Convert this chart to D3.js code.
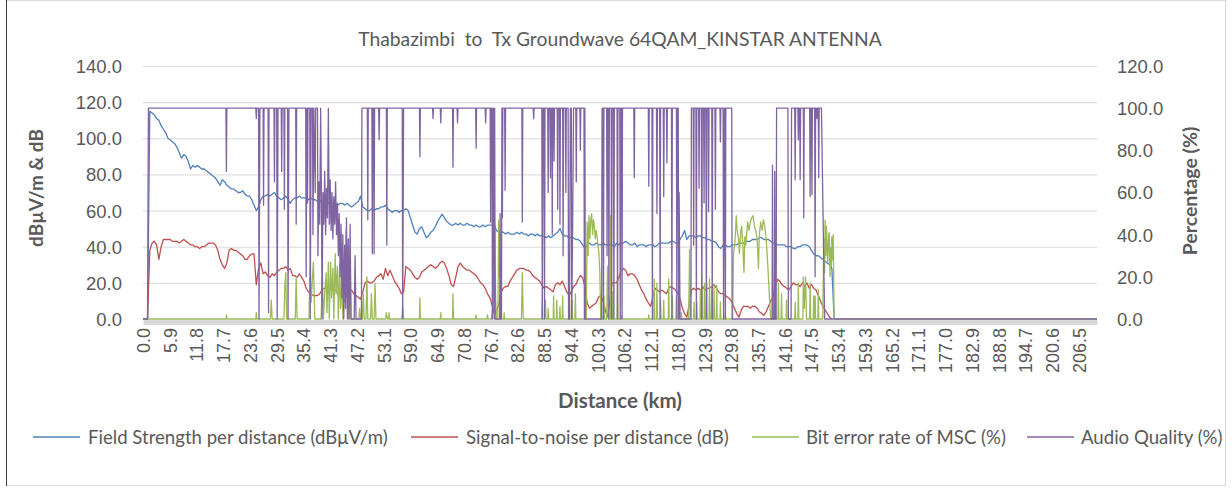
<!DOCTYPE html>
<html>
<head>
<meta charset="utf-8">
<script src="https://cdn.jsdelivr.net/npm/d3@7/dist/d3.min.js"></script>
<style>
  html, body { margin: 0; padding: 0; background: #ffffff; }
  svg { display: block; font-family: Lato, "Open Sans", sans-serif; }
</style>
</head>
<body>
<svg id="chart" width="1232" height="488"></svg>
<script>
// ---- Drive-test data (distance from Thabazimbi) ----
// Field strength and SNR are sampled every SAMPLE_STEP_KM km, starting at 0 km.
const SAMPLE_STEP_KM = 0.5;

// Field Strength per distance (dBuV/m)
const fieldStrength = [
  0,0,0,115,114,113,111,110,107,105,
  103,100,99,98,97,95,92,89,91,90,
  87,83,85,84,85,84,83,83,82,81,
  80,79,78,76,74,77,76,74,73,72,
  72,71,70,70,71,69,68,68,66,63,
  60,62,66,68,68,69,68,69,70,68,
  67,66,67,68,66,64,66,67,67,68,
  67,67,67,66,67,66,66,65,66,64,
  65,65,64,65,64,64,63,64,64,63,
  64,63,62,63,64,65,68,62,61,60,
  60,61,60,61,61,62,62,63,61,60,
  59,60,60,59,60,60,61,60,56,52,
  48,47,50,51,48,45,46,48,49,51,
  54,56,58,56,54,53,52,52,53,52,
  53,52,52,53,52,52,51,52,51,51,
  52,51,52,52,52,52,49,48,48,48,
  47,48,47,47,47,48,47,48,47,47,
  46,47,47,46,47,46,46,46,45,46,
  45,46,47,48,50,47,46,46,45,45,
  45,44,44,43,41,39,41,42,41,41,
  42,41,41,42,41,41,41,41,40,42,
  41,42,42,43,42,41,41,42,40,41,
  41,41,40,41,41,41,40,41,42,42,
  42,42,42,43,43,42,42,44,46,49,
  44,46,46,46,45,46,46,45,45,44,
  44,43,43,42,40,39,41,41,40,40,
  41,41,41,42,42,42,43,43,43,44,
  44,44,45,45,44,44,44,43,42,42,
  41,41,41,41,40,40,40,39,39,40,
  40,41,41,41,40,38,36,35,35,34,
  33,32,31,30,28,0
];

// Signal-to-noise per distance (dB)
const signalToNoise = [
  0,0,0,38,42,43,41,33,40,44,
  44,44,44,43,43,43,42,43,44,43,
  42,41,41,40,40,39,40,40,41,42,
  42,42,41,38,33,30,28,31,38,39,
  38,38,37,36,35,33,33,35,36,36,
  19,28,31,25,26,24,23,25,24,26,
  27,28,28,29,27,28,24,24,23,25,
  23,21,17,15,14,13,13,13,14,16,
  17,17,17,16,16,16,14,13,11,10,
  14,16,16,14,13,12,11,15,20,21,
  20,20,21,23,24,25,22,28,24,27,
  24,21,19,17,14,15,29,28,27,25,
  23,22,23,26,27,28,29,30,29,28,
  29,31,32,31,28,24,19,18,23,29,
  31,29,28,27,27,26,25,24,22,20,
  19,17,14,12,8,3,5,8,15,17,
  18,18,21,23,25,27,28,28,28,27,
  27,26,24,23,22,21,19,17,18,17,
  16,15,19,20,19,21,18,15,13,15,
  18,19,22,24,23,18,9,6,7,8,
  9,12,13,10,5,1,10,20,20,20,
  23,27,28,27,24,25,25,24,22,19,
  16,14,11,9,7,12,17,16,15,16,
  15,14,17,18,17,16,14,11,6,3,
  1,8,16,17,16,17,16,18,16,17,
  17,18,19,17,15,14,14,13,12,11,
  9,6,3,1,5,7,7,7,6,7,
  7,6,4,3,2,4,7,10,12,18,
  22,21,19,18,17,16,18,20,19,19,
  18,20,18,20,17,19,17,16,13,10,
  7,5,3,1,0
];

// Bit error rate of MSC (%) as [km, %]
const bitErrorRate = [
  [0,0],[18.3,0],[18.4,2],[18.5,0],[24.9,0],[25.0,3],[25.1,0],
  [28.1,0],[28.3,9],[28.5,0],
  [31.1,0],[31.3,16],[31.5,22],[31.7,0],
  [33.6,0],[33.8,20],[34.0,0],
  [36.6,0],[36.9,25],[37.1,8],[37.4,20],[37.6,27],[37.9,0],
  [39.3,0],[39.6,20],[39.8,0],[40.1,12],[40.4,22],[40.6,3],[40.9,27],[41.1,0],[41.4,27],[41.6,10],[41.9,24],[42.1,0],
  [42.4,31],[42.6,12],[42.9,25],[43.1,0],[43.4,26],[43.6,5],[43.9,18],[44.1,0],[44.4,30],[44.6,18],[44.8,42],[45.0,20],
  [45.2,35],[45.4,0],[45.7,27],[45.9,0],
  [47.6,0],[47.8,5],[48.0,0],[48.4,0],[48.6,12],[48.8,0],[49.2,0],[49.4,20],[49.6,0],[50.2,0],[50.4,12],[50.6,0],
  [51.0,0],[51.2,17],[51.4,0],
  [53.5,0],[53.7,3],[53.9,0],[54.2,0],[54.3,3],[54.4,0],
  [57.1,0],[57.3,6],[57.5,0],
  [61.0,0],[61.1,10],[61.2,0],
  [65.6,0],[65.7,3],[65.8,0],
  [68.3,0],[68.4,12],[68.5,0],
  [73.4,0],[73.5,2],[73.6,0],
  [75.9,0],[76.0,2],[76.1,0],
  [76.9,0],[77.1,4],[77.3,49],[77.4,5],[77.6,46],[77.8,10],[78.0,0],[78.3,0],[78.5,47],[78.6,20],[78.8,40],[79.0,0],
  [79.6,0],[79.7,3],[79.8,0],
  [83.5,0],[83.7,22],[83.9,0],
  [88.0,0],[88.1,9],[88.2,0],[88.6,0],[88.8,9],[88.9,0],
  [89.3,0],[89.4,5],[89.5,0],
  [90.5,0],[90.6,11],[90.7,0],[91.2,0],[91.3,9],[91.4,0],[91.9,0],[92.0,6],[92.1,0],[92.5,0],[92.6,11],[92.7,0],
  [94.0,0],[94.1,9],[94.2,0],[94.6,0],[94.7,9],[94.8,0],
  [95.3,0],[95.4,12],[95.5,0],
  [97.8,0],[98.0,46],[98.2,30],[98.4,49],[98.6,38],[98.8,47],[99.0,50],[99.2,40],[99.4,47],[99.6,44],[99.8,38],
  [100.0,42],[100.2,39],[100.4,35],[100.6,31],[100.8,22],[101.0,0],
  [101.6,0],[101.7,11],[101.8,0],[102.3,0],[102.5,25],[102.7,0],[103.1,0],[103.2,49],[103.3,0],[103.6,0],[103.7,13],[103.8,0],
  [104.6,0],[104.7,20],[104.8,0],[105.4,0],[105.5,2],[105.6,0],
  [111.5,0],[111.6,2],[111.7,0],
  [112.7,0],[112.8,19],[112.9,0],[113.3,0],[113.4,17],[113.5,0],[114.1,0],[114.2,9],[114.3,0],[114.8,0],[114.9,9],[115.0,0],
  [115.9,0],[116.0,19],[116.1,0],[116.7,0],[116.8,11],[116.9,0],[117.6,0],[117.7,11],[117.8,0],
  [118.7,0],[118.8,3],[118.9,0],
  [120.4,0],[120.6,33],[120.8,0],
  [121.5,0],[121.6,8],[121.7,0],[122.1,0],[122.2,8],[122.3,0],
  [122.9,0],[123.0,14],[123.1,0],[123.2,0],[123.3,21],[123.4,0],[123.8,0],[123.9,17],[124.0,0],[124.3,0],[124.4,17],[124.5,0],
  [124.9,0],[125.0,19],[125.1,0],[125.4,0],[125.5,14],[125.6,0],[125.9,0],[126.0,16],[126.1,0],[126.5,0],[126.6,16],[126.7,0],
  [127.3,0],[127.4,8],[127.5,0],[128.4,0],[128.5,3],[128.6,0],
  [130.1,0],[130.3,31],[130.6,36],[130.9,49],[131.1,42],[131.4,38],[131.6,31],[131.9,42],[132.1,44],[132.4,33],
  [132.6,22],[132.8,39],[133.0,35],[133.4,46],[133.7,42],[134.0,46],[134.3,48],[134.6,49],[134.9,44],[135.2,42],
  [135.5,38],[135.8,24],[136.0,40],[136.3,46],[136.6,42],[136.9,47],[137.2,44],[137.5,38],[137.9,24],[138.2,11],[138.5,0],
  [139.4,0],[139.5,6],[139.6,0],[140.1,0],[140.2,17],[140.3,0],[140.8,0],[140.9,12],[141.0,0],[141.9,0],[142.0,9],[142.1,0],
  [143.8,0],[143.9,8],[144.0,0],[144.5,0],[144.6,17],[144.7,0],[145.6,0],[145.7,20],[145.9,5],[146.2,20],[146.4,0],
  [147.1,0],[147.2,17],[147.3,0],[147.9,0],[148.0,11],[148.1,0],[148.2,0],[148.3,11],[148.4,0],[148.9,0],[149.0,14],[149.1,0],
  [150.0,0],[150.2,38],[150.4,22],[150.5,47],[150.7,30],[150.8,44],[151.1,27],[151.3,40],[151.4,41],[151.6,20],[151.7,34],
  [151.9,25],[152.0,39],[152.2,28],[152.3,40],[152.5,0],[210.5,0]
];

// Audio Quality (%) as [km, %]
const audioQuality = [
  [0,0],[1.0,0],[1.2,100],
  [18.3,100],[18.4,70],[18.5,100],
  [24.9,100],[25.0,95],[25.1,100],
  [25.5,100],[25.6,0],[25.8,100],
  [26.5,100],[26.6,54],[26.7,100],
  [27.6,100],[27.7,3],[27.8,100],
  [28.9,100],[29.0,65],[29.1,100],
  [29.5,100],[29.6,0],[29.8,100],
  [30.5,100],[30.6,70],[30.7,100],
  [31.1,100],[31.2,52],[31.3,100],
  [31.9,100],[32.0,0],[32.2,100],
  [33.7,100],[33.8,45],[33.9,100],
  [35.9,100],[36.0,20],[36.15,100],[36.3,55],[36.4,100],
  [36.8,100],[36.9,0],[37.1,100],
  [37.4,100],[37.5,40],[37.7,100],[38.0,60],[38.1,100],
  [38.5,100],[38.6,30],[38.8,65],[39.0,45],[39.2,100],[39.4,50],[39.5,0],[39.7,60],[39.9,45],[40.1,70],[40.3,40],
  [40.5,62],[40.7,48],[40.9,100],[41.1,45],[41.3,66],[41.5,42],[41.7,60],[41.9,38],[42.1,58],[42.3,45],[42.5,65],
  [42.7,40],[42.9,55],[43.1,30],[43.3,50],[43.5,20],[43.7,45],[43.9,10],[44.1,40],[44.3,0],[44.5,35],[44.7,5],
  [44.9,48],[45.1,0],[45.3,38],[45.5,0],[45.7,45],[45.9,0],[46.6,0],[46.8,30],[47.0,0],[48.2,0],[48.3,100],
  [49.5,100],[49.6,47],[49.7,100],[50.5,100],[50.6,31],[50.7,100],[50.9,100],[51.0,31],[51.1,100],
  [52.0,100],[52.1,85],[52.2,100],
  [53.7,100],[53.8,35],[53.9,100],
  [57.2,100],[57.3,0],[57.5,100],
  [61.0,100],[61.1,77],[61.2,100],
  [63.9,100],[64.0,95],[64.1,100],
  [65.6,100],[65.7,93],[65.8,100],
  [68.3,100],[68.4,72],[68.5,100],
  [69.3,100],[69.4,93],[69.5,100],
  [73.4,100],[73.5,81],[73.6,100],
  [75.5,100],[75.6,93],[75.7,100],
  [76.6,100],[76.7,46],[76.8,100],[77.0,100],[77.1,0],[77.3,100],[77.5,0],[77.6,100],[77.7,0],[78.7,0],[78.8,50],
  [78.9,0],[79.1,0],[79.2,100],[79.3,48],[79.4,100],[79.8,100],[79.9,61],[80.0,100],
  [83.6,100],[83.7,46],[83.8,100],
  [86.1,100],[86.2,95],[86.3,100],
  [88.0,100],[88.1,0],[88.3,100],[88.5,100],[88.6,0],[88.7,100],
  [89.3,100],[89.4,60],[89.5,100],[89.8,100],[89.9,67],[90.0,100],[90.2,100],[90.3,40],[90.4,100],[90.6,100],[90.7,75],[90.8,100],
  [91.4,100],[91.5,52],[91.6,100],[91.9,100],[92.0,45],[92.1,100],
  [92.6,100],[92.7,30],[92.8,100],[93.2,100],[93.3,60],[93.4,100],
  [93.8,100],[93.9,0],[94.1,0],[94.3,100],[94.5,100],[94.6,0],[94.8,45],[95.0,100],
  [95.5,100],[95.6,65],[95.7,100],[96.4,100],[96.5,80],[96.6,100],
  [97.3,100],[97.4,0],[97.5,100],[97.6,0],[101.2,0],[101.3,100],
  [101.5,100],[101.6,0],[101.7,100],[102.3,100],[102.4,30],[102.5,100],[102.7,100],[102.8,0],[102.9,100],
  [103.3,100],[103.4,0],[103.5,100],[103.8,100],[103.9,0],[104.0,100],[104.6,100],[104.7,0],[104.8,100],
  [105.2,100],[105.3,0],[105.4,100],[105.6,100],[105.7,0],[105.8,100],
  [108.3,100],[108.4,67],[108.5,100],
  [111.5,100],[111.6,63],[111.7,100],
  [112.3,100],[112.4,0],[112.5,100],
  [113.3,100],[113.4,50],[113.5,100],
  [114.0,100],[114.1,0],[114.2,100],
  [114.8,100],[114.9,58],[115.0,100],
  [115.5,100],[115.6,74],[115.7,100],
  [116.6,100],[116.7,0],[116.8,100],
  [117.7,100],[117.8,0],[117.9,100],[118.1,100],[118.2,0],[118.3,60],[118.5,0],[120.9,0],[121.0,100],
  [121.4,100],[121.5,35],[121.6,100],
  [122.0,100],[122.1,0],[122.2,100],
  [122.6,100],[122.7,62],[122.8,100],
  [123.2,100],[123.3,0],[123.4,100],
  [123.7,100],[123.8,55],[123.9,100],
  [124.2,100],[124.3,0],[124.4,100],
  [124.7,100],[124.8,51],[124.9,100],
  [125.5,100],[125.6,0],[125.7,100],
  [126.2,100],[126.3,52],[126.4,100],
  [127.3,100],[127.4,84],[127.5,100],
  [128.0,100],[128.1,0],[128.3,100],[128.4,100],[128.5,0],[128.6,100],
  [129.9,100],[130.0,0],
  [138.8,0],[138.9,73],[139.0,0],[139.3,0],[139.4,70],[139.5,0],[139.7,0],[139.8,100],
  [142.3,100],[142.4,0],[143.0,0],[143.1,100],
  [143.8,100],[143.9,66],[144.0,100],[144.5,100],[144.6,85],[144.7,100],[144.9,100],[145.0,66],[145.1,100],
  [145.7,100],[145.8,48],[145.9,100],[147.1,100],[147.2,58],[147.3,100],[147.5,100],[147.6,59],[147.7,100],
  [148.2,100],[148.3,20],[148.4,100],[148.6,100],[148.7,95],[148.8,100],[149.0,100],[149.1,67],[149.2,100],
  [149.7,100],[150.4,0],
  [210.5,0]
];

// Category labels shown along the distance axis (km)
const distanceLabels = [
  "0.0","5.9","11.8","17.7","23.6","29.5","35.4","41.3","47.2","53.1","59.0","64.9",
  "70.8","76.7","82.6","88.5","94.4","100.3","106.2","112.1","118.0","123.9","129.8","135.7",
  "141.6","147.5","153.4","159.3","165.2","171.1","177.0","182.9","188.8","194.7","200.6","206.5"
];
const leftTicks = [0, 20, 40, 60, 80, 100, 120, 140];
const rightTicks = [0, 20, 40, 60, 80, 100, 120];

const seriesNames = [
  "Field Strength per distance (dB\u03bcV/m)",
  "Signal-to-noise per distance (dB)",
  "Bit error rate of MSC (%)",
  "Audio Quality (%)"
];
const seriesColors = ["#4F81BD", "#C0504D", "#9BBB59", "#8064A2"];

const chartTitle = "Thabazimbi  to  Tx Groundwave 64QAM_KINSTAR ANTENNA";
const leftAxisTitle = "dB\u00b5V/m & dB";
const rightAxisTitle = "Percentage (%)";
const xAxisTitle = "Distance (km)";

// ---- Layout ----
const W = 1232, H = 488;
const plot = { left: 143, right: 1097, top: 66, bottom: 319 };
const textColor = "#595959";
const gridColor = "#D9D9D9";

const svg = d3.select("#chart");

// chart area frame
svg.append("rect")
  .attr("x", 6.5).attr("y", 0.5)
  .attr("width", 1219).attr("height", 485)
  .attr("fill", "#ffffff")
  .attr("stroke", "#D9D9D9").attr("stroke-width", 1);
svg.append("line")
  .attr("x1", 6.5).attr("x2", 6.5).attr("y1", 0).attr("y2", 486)
  .attr("stroke", "#404040").attr("stroke-width", 1);

// ---- Scales ----
const x = d3.scaleLinear().domain([0, 210.5]).range([plot.left, plot.right]);
const yLeft = d3.scaleLinear().domain([0, 140]).range([plot.bottom, plot.top]);
const yRight = d3.scaleLinear().domain([0, 120]).range([plot.bottom, plot.top]);

// ---- Gridlines ----
svg.append("g")
  .attr("transform", `translate(${plot.left},0)`)
  .call(d3.axisLeft(yLeft).tickValues(leftTicks.filter(t => t > 0))
    .tickSize(-(plot.right - plot.left)).tickFormat(""))
  .call(g => g.select(".domain").remove())
  .call(g => g.selectAll(".tick line").attr("stroke", gridColor).attr("stroke-width", 1));

// ---- Category axis (distance) ----
const axisY = 322;
svg.append("g")
  .attr("transform", `translate(0,${axisY})`)
  .call(d3.axisBottom(x)
    .tickValues(distanceLabels.map(Number))
    .tickFormat((d, i) => distanceLabels[i])
    .tickSize(0).tickSizeOuter(0))
  .call(g => g.select(".domain").attr("stroke", gridColor).attr("stroke-width", 5))
  .call(g => g.selectAll(".tick text")
    .attr("fill", textColor)
    .attr("font-size", 18)
    .attr("text-anchor", "end")
    .attr("transform", "rotate(-90)")
    .attr("x", -6).attr("y", 0).attr("dy", "0.36em"));

// ---- Value axes ----
svg.append("g")
  .attr("transform", `translate(${plot.left - 21},0)`)
  .call(d3.axisLeft(yLeft).tickValues(leftTicks).tickFormat(d3.format(".1f")).tickSize(0).tickPadding(0))
  .call(g => g.select(".domain").remove())
  .call(g => g.selectAll(".tick text").attr("fill", textColor).attr("font-size", 18.5).attr("dy", "0.35em"));

svg.append("g")
  .attr("transform", `translate(${plot.right + 20},0)`)
  .call(d3.axisRight(yRight).tickValues(rightTicks).tickFormat(d3.format(".1f")).tickSize(0).tickPadding(0))
  .call(g => g.select(".domain").remove())
  .call(g => g.selectAll(".tick text").attr("fill", textColor).attr("font-size", 18.5).attr("dy", "0.35em"));

// ---- Series ----
const seriesLayer = svg.append("g");
const sampled = d3.line()
  .x((d, i) => x(i * SAMPLE_STEP_KM))
  .y(d => yLeft(d));
const paired = d3.line()
  .x(d => x(d[0]))
  .y(d => yRight(d[1]));

seriesLayer.append("path").datum(fieldStrength)
  .attr("d", sampled).attr("fill", "none")
  .attr("stroke", seriesColors[0]).attr("stroke-width", 1.3).attr("stroke-linejoin", "round");
seriesLayer.append("path").datum(signalToNoise)
  .attr("d", sampled).attr("fill", "none")
  .attr("stroke", seriesColors[1]).attr("stroke-width", 1.3).attr("stroke-linejoin", "round");
seriesLayer.append("path").datum(bitErrorRate)
  .attr("d", paired).attr("fill", "none")
  .attr("stroke", seriesColors[2]).attr("stroke-width", 1.3).attr("stroke-linejoin", "round");
seriesLayer.append("path").datum(audioQuality)
  .attr("d", paired).attr("fill", "none")
  .attr("stroke", seriesColors[3]).attr("stroke-width", 1.3).attr("stroke-linejoin", "round");

// ---- Titles ----
svg.append("text")
  .attr("x", 620).attr("y", 46)
  .attr("text-anchor", "middle")
  .attr("fill", textColor).attr("font-size", 19.3)
  .style("white-space", "pre")
  .text(chartTitle);

svg.append("text")
  .attr("transform", "translate(43,188) rotate(-90)")
  .attr("text-anchor", "middle")
  .attr("fill", textColor).attr("font-size", 19).attr("font-weight", "bold")
  .text(leftAxisTitle);

svg.append("text")
  .attr("transform", "translate(1197,191) rotate(-90)")
  .attr("text-anchor", "middle")
  .attr("fill", textColor).attr("font-size", 19.5).attr("font-weight", "bold")
  .text(rightAxisTitle);

svg.append("text")
  .attr("x", 620).attr("y", 408)
  .attr("text-anchor", "middle")
  .attr("fill", textColor).attr("font-size", 20.5).attr("font-weight", "bold")
  .text(xAxisTitle);

// ---- Legend ----
const legendY = 437;
const legendItems = [
  { line: 33, text: 88 },
  { line: 411, text: 466 },
  { line: 752, text: 806 },
  { line: 1027, text: 1081 }
];
const legend = svg.append("g");
legendItems.forEach((it, i) => {
  legend.append("line")
    .attr("x1", it.line).attr("x2", it.line + 47)
    .attr("y1", legendY).attr("y2", legendY)
    .attr("stroke", seriesColors[i]).attr("stroke-width", 1.5);
  legend.append("text")
    .attr("x", it.text).attr("y", legendY).attr("dy", "0.35em")
    .attr("fill", textColor).attr("font-size", 18.6)
    .text(seriesNames[i]);
});
</script>
</body>
</html>
